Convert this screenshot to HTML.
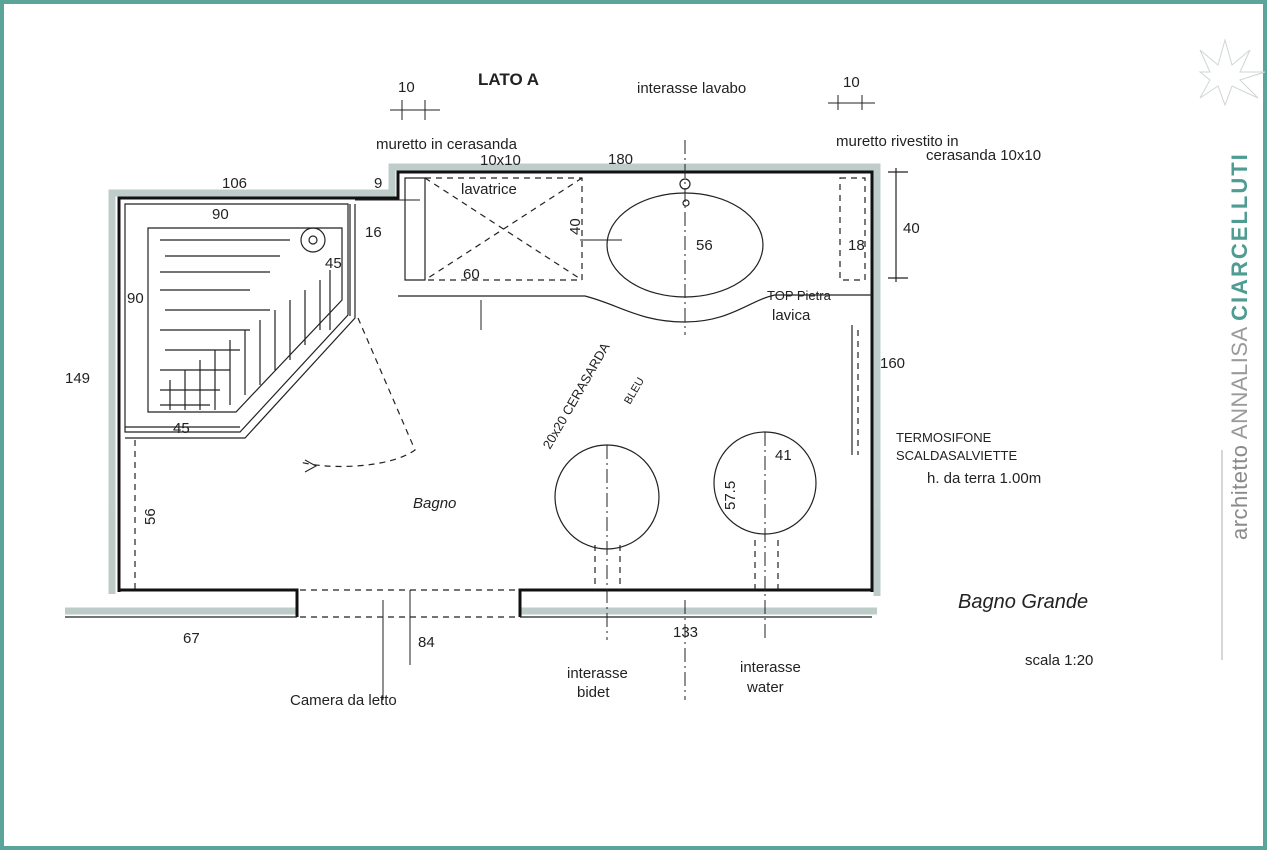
<!DOCTYPE html>
<html><head><meta charset="utf-8"><style>
html,body{margin:0;padding:0;background:#fff}
svg{display:block}
text{font-family:"Liberation Sans",sans-serif;fill:#222}
</style></head><body>
<svg width="1267" height="850" viewBox="0 0 1267 850" xmlns="http://www.w3.org/2000/svg">
<rect x="0" y="0" width="1267" height="850" fill="#fff"/>
<rect x="2" y="2" width="1263" height="846" fill="none" stroke="#5aa49a" stroke-width="4"/>

<!-- wall shadows -->
<g stroke="#a9bcb8" stroke-width="7" fill="none" opacity="0.75">
<path d="M112 594 V193 H392 V167 H877 V596"/>
<path d="M65 611 H297"/><path d="M520 611 H877"/>
</g>
<!-- walls -->
<g stroke="#111" stroke-width="3" fill="none">
<path d="M119 592 V198 H398 V172 H872 V592"/>
<path d="M119 590 H297 V617"/><path d="M520 617 V590 H872"/>
</g>
<g stroke="#222" stroke-width="1.2" fill="none">
<path d="M65 617 H297"/><path d="M520 617 H872"/>
<path d="M125 204 H348 V315 L240 432 H125 Z"/>
<path d="M148 228 H342 V300 L236 412 H148 Z"/>
<path d="M355 204 V318 L245 438 H125"/><path d="M350 204 V316"/>
<path d="M125 427 H240"/>
<circle cx="313" cy="240" r="12"/><circle cx="313" cy="240" r="4"/>
<path d="M160 240 H290 M165 256 H280 M160 272 H270 M160 290 H250 M165 310 H270 M160 330 H250 M165 350 H240 M160 370 H230 M160 390 H220 M160 405 H210"/>
<path d="M330 270 V330 M320 280 V330 M305 290 V345 M290 300 V360 M275 310 V370 M260 320 V385 M245 330 V395 M230 340 V405 M215 350 V410 M200 360 V410 M185 370 V410 M170 380 V410"/>
<path d="M398 296 H585 C620 305 640 322 685 322 C730 322 750 300 775 295 H872"/>
<path d="M405 178 H425 V280 H405 Z"/>
<ellipse cx="685" cy="245" rx="78" ry="52"/>
<circle cx="685" cy="184" r="5"/><circle cx="686" cy="203" r="3"/>
<circle cx="607" cy="497" r="52"/><circle cx="765" cy="483" r="51"/>
<path d="M896 168 V282 M888 172 H908 M888 278 H908"/>
<path d="M852 325 V455"/>
</g>
<g stroke="#222" stroke-width="1.2" fill="none" stroke-dasharray="6 5">
<path d="M425 178 H582 V280 H425"/><path d="M425 178 L582 280 M582 178 L425 280"/>
<path d="M840 178 H865 V280 H840 Z"/>
<path d="M358 318 L415 450 C390 468 330 470 300 462"/>
<path d="M300 590 H520 M300 617 H520"/>
<path d="M135 440 V590"/>
<path d="M595 545 V590 M620 545 V590 M755 540 V590 M778 540 V590"/>
<path d="M858 330 V455"/>
</g>
<g stroke="#222" stroke-width="1" fill="none" stroke-dasharray="14 4 2 4">
<path d="M685 140 V335"/><path d="M607 445 V640"/><path d="M765 432 V640"/><path d="M685 600 V700"/>
</g>
<g stroke="#222" stroke-width="1" fill="none">
<path d="M402 100 V120 M425 100 V120 M390 110 H440"/>
<path d="M838 95 V110 M862 95 V110 M828 103 H875"/>
<path d="M383 600 V700"/><path d="M410 590 V665"/>
<path d="M355 200 H420"/><path d="M580 240 H622"/>
<path d="M481 300 V330"/>
<path d="M305 460 L316 466 L305 472"/>
</g>

<g font-size="15">
<text x="478" y="85" font-size="17" font-weight="bold">LATO A</text>
<text x="398" y="92">10</text><text x="843" y="87">10</text>
<text x="637" y="93">interasse lavabo</text>
<text x="376" y="149">muretto in cerasanda</text>
<text x="480" y="165">10x10</text>
<text x="836" y="146">muretto rivestito in</text>
<text x="926" y="160">cerasanda 10x10</text>
<text x="222" y="188">106</text><text x="374" y="188">9</text><text x="608" y="164">180</text>
<text x="212" y="219">90</text><text x="461" y="194">lavatrice</text>
<text x="365" y="237">16</text><text x="903" y="233">40</text>
<text x="696" y="250">56</text><text x="848" y="250">18</text>
<text x="463" y="279">60</text><text x="325" y="268">45</text>
<text x="127" y="303">90</text>
<text x="767" y="300" font-size="13">TOP Pietra</text><text x="772" y="320">lavica</text>
<text x="880" y="368">160</text><text x="65" y="383">149</text>
<text x="173" y="433">45</text>
<text x="896" y="442" font-size="13">TERMOSIFONE</text>
<text x="896" y="460" font-size="13">SCALDASALVIETTE</text>
<text x="927" y="483">h. da terra 1.00m</text>
<text x="775" y="460">41</text>
<text x="413" y="508" font-style="italic">Bagno</text>
<text x="958" y="608" font-size="20" font-style="italic">Bagno Grande</text>
<text x="1025" y="665">scala 1:20</text>
<text x="183" y="643">67</text><text x="418" y="647">84</text><text x="673" y="637">133</text>
<text x="567" y="678">interasse</text><text x="577" y="697">bidet</text>
<text x="740" y="672">interasse</text><text x="747" y="692">water</text>
<text x="290" y="705">Camera da letto</text>
<text transform="translate(155 525) rotate(-90)">56</text>
<text transform="translate(580 235) rotate(-90)">40</text>
<text transform="translate(735 510) rotate(-90)">57.5</text>
<text transform="translate(550 450) rotate(-60)" font-size="13">20x20 CERASARDA</text>
<text transform="translate(630 405) rotate(-60)" font-size="11">BLEU</text>
</g>

<!-- logo -->
<g stroke="#cfd6d4" stroke-width="1" fill="none">
<path d="M1225 40 L1232 65 L1250 50 L1240 72 L1265 72 L1240 80 L1258 98 L1232 86 L1225 105 L1218 86 L1200 98 L1210 80 L1200 72 L1210 72 L1200 50 L1218 65 Z"/>
</g>
<path d="M1222 450 V660" stroke="#c8cccb" stroke-width="1.5"/>
<g transform="translate(1247 540) rotate(-90)">
<text x="0" y="0" font-size="22" style="fill:#8a8a8a;letter-spacing:0.5px">architetto <tspan style="fill:#9a9a9a">ANNALISA</tspan> <tspan style="fill:#4e9c92;font-weight:bold;letter-spacing:2px">CIARCELLUTI</tspan></text>
</g>
</svg>
</body></html>
